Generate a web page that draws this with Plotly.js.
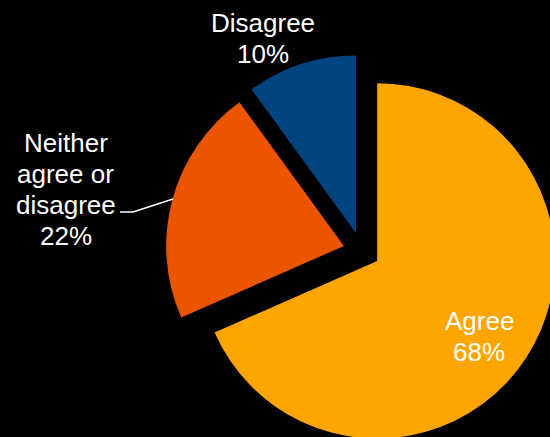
<!DOCTYPE html>
<html><head><meta charset="utf-8">
<script src="https://cdn.plot.ly/plotly-3.0.1.min.js"></script>
<style>
html,body{margin:0;padding:0;background:#000;overflow:hidden;width:550px;height:437px}
#chart{width:750px;height:650px}
</style>
</head><body><div id="chart"></div>
<script>
// ---- data ----
const categories = ['Agree', 'Neither agree or disagree', 'Disagree'];
const labelLines = [['Agree'], ['Neither', 'agree or', 'disagree'], ['Disagree']];
const shares = [68.4, 21.6, 10.0];
const sliceColors = ['#FFA500', '#EB5500', '#004480'];

// ---- layout constants ----
const W = 750, H = 650;
const FONT = 26, LINE = 31;
const labelPos = [{x: 479, y0: 330}, {x: 65.5, y0: 151.7}, {x: 263, y0: 31.7}];
const px = x => x / W, py = y => 1 - y / H;

const annotations = [];
categories.forEach((c, i) => {
  const lines = labelLines[i].concat([Math.round(shares[i]) + '%']);
  lines.forEach((t, j) => {
    const base = labelPos[i].y0 + j * LINE;
    annotations.push({
      xref: 'paper', yref: 'paper', x: px(labelPos[i].x), y: py(base - 0.35 * FONT),
      xanchor: 'center', yanchor: 'middle', showarrow: false, text: t,
      font: {family: 'Liberation Sans, Arial, sans-serif', size: FONT, color: '#ffffff'}
    });
  });
});

const lineStyle = {color: '#ffffff', width: 1.5};
const shapes = [
  {type: 'line', xref: 'paper', yref: 'paper', x0: px(120), y0: py(212), x1: px(133), y1: py(212), line: lineStyle},
  {type: 'line', xref: 'paper', yref: 'paper', x0: px(133), y0: py(212), x1: px(173), y1: py(199), line: lineStyle}
];

const trace = {
  type: 'pie',
  labels: categories,
  values: shares,
  sort: false,
  direction: 'clockwise',
  rotation: 0,
  pull: [0.104, 0.104, 0.104],
  marker: {colors: sliceColors, line: {width: 0}},
  textinfo: 'none',
  hoverinfo: 'label+percent',
  domain: {x: [0.2207, 0.7439], y: [0.3123, 0.9160]}
};

const layout = {
  width: W, height: H,
  margin: {l: 0, r: 0, t: 0, b: 0},
  paper_bgcolor: '#000000', plot_bgcolor: '#000000',
  showlegend: false,
  annotations: annotations,
  shapes: shapes
};

Plotly.newPlot('chart', [trace], layout, {displayModeBar: false, staticPlot: true});
</script>
</body></html>
